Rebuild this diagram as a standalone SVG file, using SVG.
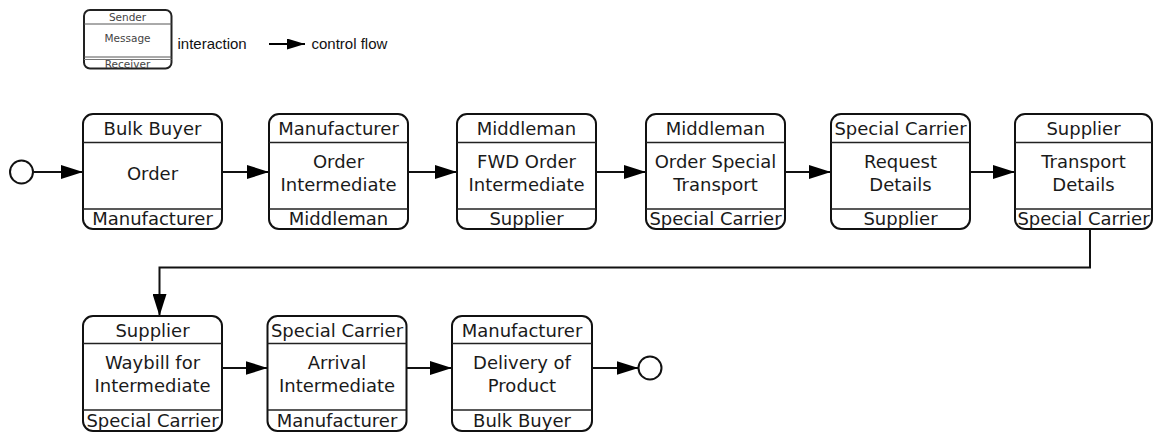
<svg xmlns="http://www.w3.org/2000/svg" width="1154" height="433" viewBox="0 0 1154 433">
<defs>
<style>
.box{fill:#fff;stroke:#111;stroke-width:2}
.sep{stroke:#222;stroke-width:1.5}
.t{font-family:"DejaVu Sans",Verdana,sans-serif;font-size:18px;text-anchor:middle;fill:#1a1a1a}
.lt{font-family:"DejaVu Sans",Verdana,sans-serif;font-size:10.5px;text-anchor:middle;fill:#444}
.leg{font-family:"Liberation Sans",Arial,sans-serif;font-size:15px;fill:#111}
.edge{stroke:#111;stroke-width:2;fill:none;marker-end:url(#arr)}
.circ{fill:#fff;stroke:#111;stroke-width:2}
</style>
<marker id="arr" markerUnits="userSpaceOnUse" markerWidth="22" markerHeight="14" refX="22" refY="7" orient="auto">
<path d="M0,0 L22,7 L0,14 z" fill="#000"/>
</marker>
<marker id="arrs" markerUnits="userSpaceOnUse" markerWidth="18" markerHeight="11" refX="18" refY="5.5" orient="auto">
<path d="M0,0 L18,5.5 L0,11 z" fill="#000"/>
</marker>
</defs>

<g id="legend">
<rect x="84" y="10" width="87.5" height="58.5" rx="6" fill="#fff" stroke="#222" stroke-width="2"/>
<line x1="84" y1="24" x2="171.5" y2="24" stroke="#555" stroke-width="1"/>
<line x1="84" y1="57" x2="171.5" y2="57" stroke="#555" stroke-width="1"/>
<line x1="84" y1="59.5" x2="171.5" y2="59.5" stroke="#777" stroke-width="1"/>
<text class="lt" x="127.5" y="21">Sender</text>
<text class="lt" x="127.5" y="42">Message</text>
<text class="lt" x="127.5" y="67.5">Receiver</text>
<text class="leg" x="177.5" y="49">interaction</text>
<line x1="269" y1="44" x2="305" y2="44" stroke="#000" stroke-width="2" marker-end="url(#arrs)"/>
<text class="leg" x="311.5" y="49">control flow</text>
</g>

<g id="connectors">
<line class="edge" x1="33.5" y1="172" x2="83" y2="172"/>
<line class="edge" x1="222" y1="172" x2="269" y2="172"/>
<line class="edge" x1="408" y1="172" x2="457" y2="172"/>
<line class="edge" x1="596" y1="172" x2="646" y2="172"/>
<line class="edge" x1="785" y1="172" x2="831" y2="172"/>
<line class="edge" x1="970" y1="172" x2="1015" y2="172"/>
<path class="edge" d="M1090,229 L1090,267.5 L159.5,267.5 L159.5,316"/>
<line class="edge" x1="222" y1="368" x2="267.5" y2="368"/>
<line class="edge" x1="406.5" y1="368" x2="452" y2="368"/>
<line class="edge" x1="592" y1="368" x2="638.5" y2="368"/>
</g>

<g id="start"><circle class="circ" cx="21.5" cy="172" r="11.5"/></g>
<g id="end"><circle class="circ" cx="650" cy="368" r="11.5"/></g>

<g id="n1">
<rect class="box" x="83" y="114" width="139" height="115" rx="10"/>
<line class="sep" x1="83" y1="142.5" x2="222" y2="142.5"/>
<line class="sep" x1="83" y1="209" x2="222" y2="209"/>
<text class="t" x="152.5" y="135">Bulk Buyer</text>
<text class="t" x="152.5" y="180">Order</text>
<text class="t" x="152.5" y="225">Manufacturer</text>
</g>

<g id="n2">
<rect class="box" x="269" y="114" width="139" height="115" rx="10"/>
<line class="sep" x1="269" y1="142.5" x2="408" y2="142.5"/>
<line class="sep" x1="269" y1="209" x2="408" y2="209"/>
<text class="t" x="338.5" y="135">Manufacturer</text>
<text class="t" x="338.5" y="168">Order</text>
<text class="t" x="338.5" y="191">Intermediate</text>
<text class="t" x="338.5" y="225">Middleman</text>
</g>

<g id="n3">
<rect class="box" x="457" y="114" width="139" height="115" rx="10"/>
<line class="sep" x1="457" y1="142.5" x2="596" y2="142.5"/>
<line class="sep" x1="457" y1="209" x2="596" y2="209"/>
<text class="t" x="526.5" y="135">Middleman</text>
<text class="t" x="526.5" y="168">FWD Order</text>
<text class="t" x="526.5" y="191">Intermediate</text>
<text class="t" x="526.5" y="225">Supplier</text>
</g>

<g id="n4">
<rect class="box" x="646" y="114" width="139" height="115" rx="10"/>
<line class="sep" x1="646" y1="142.5" x2="785" y2="142.5"/>
<line class="sep" x1="646" y1="209" x2="785" y2="209"/>
<text class="t" x="715.5" y="135">Middleman</text>
<text class="t" x="715.5" y="168">Order Special</text>
<text class="t" x="715.5" y="191">Transport</text>
<text class="t" x="715.5" y="225">Special Carrier</text>
</g>

<g id="n5">
<rect class="box" x="831" y="114" width="139" height="115" rx="10"/>
<line class="sep" x1="831" y1="142.5" x2="970" y2="142.5"/>
<line class="sep" x1="831" y1="209" x2="970" y2="209"/>
<text class="t" x="900.5" y="135">Special Carrier</text>
<text class="t" x="900.5" y="168">Request</text>
<text class="t" x="900.5" y="191">Details</text>
<text class="t" x="900.5" y="225">Supplier</text>
</g>

<g id="n6">
<rect class="box" x="1015" y="114" width="137" height="115" rx="10"/>
<line class="sep" x1="1015" y1="142.5" x2="1152" y2="142.5"/>
<line class="sep" x1="1015" y1="209" x2="1152" y2="209"/>
<text class="t" x="1083.5" y="135">Supplier</text>
<text class="t" x="1083.5" y="168">Transport</text>
<text class="t" x="1083.5" y="191">Details</text>
<text class="t" x="1083.5" y="225">Special Carrier</text>
</g>

<g id="n7">
<rect class="box" x="83" y="316" width="139" height="115" rx="10"/>
<line class="sep" x1="83" y1="343.5" x2="222" y2="343.5"/>
<line class="sep" x1="83" y1="410" x2="222" y2="410"/>
<text class="t" x="152.5" y="337">Supplier</text>
<text class="t" x="152.5" y="369">Waybill for</text>
<text class="t" x="152.5" y="392">Intermediate</text>
<text class="t" x="152.5" y="427">Special Carrier</text>
</g>

<g id="n8">
<rect class="box" x="267.5" y="316" width="139" height="115" rx="10"/>
<line class="sep" x1="267.5" y1="343.5" x2="406.5" y2="343.5"/>
<line class="sep" x1="267.5" y1="410" x2="406.5" y2="410"/>
<text class="t" x="337" y="337">Special Carrier</text>
<text class="t" x="337" y="369">Arrival</text>
<text class="t" x="337" y="392">Intermediate</text>
<text class="t" x="337" y="427">Manufacturer</text>
</g>

<g id="n9">
<rect class="box" x="452" y="316" width="140" height="115" rx="10"/>
<line class="sep" x1="452" y1="343.5" x2="592" y2="343.5"/>
<line class="sep" x1="452" y1="410" x2="592" y2="410"/>
<text class="t" x="522" y="337">Manufacturer</text>
<text class="t" x="522" y="369">Delivery of</text>
<text class="t" x="522" y="392">Product</text>
<text class="t" x="522" y="427">Bulk Buyer</text>
</g>
</svg>
